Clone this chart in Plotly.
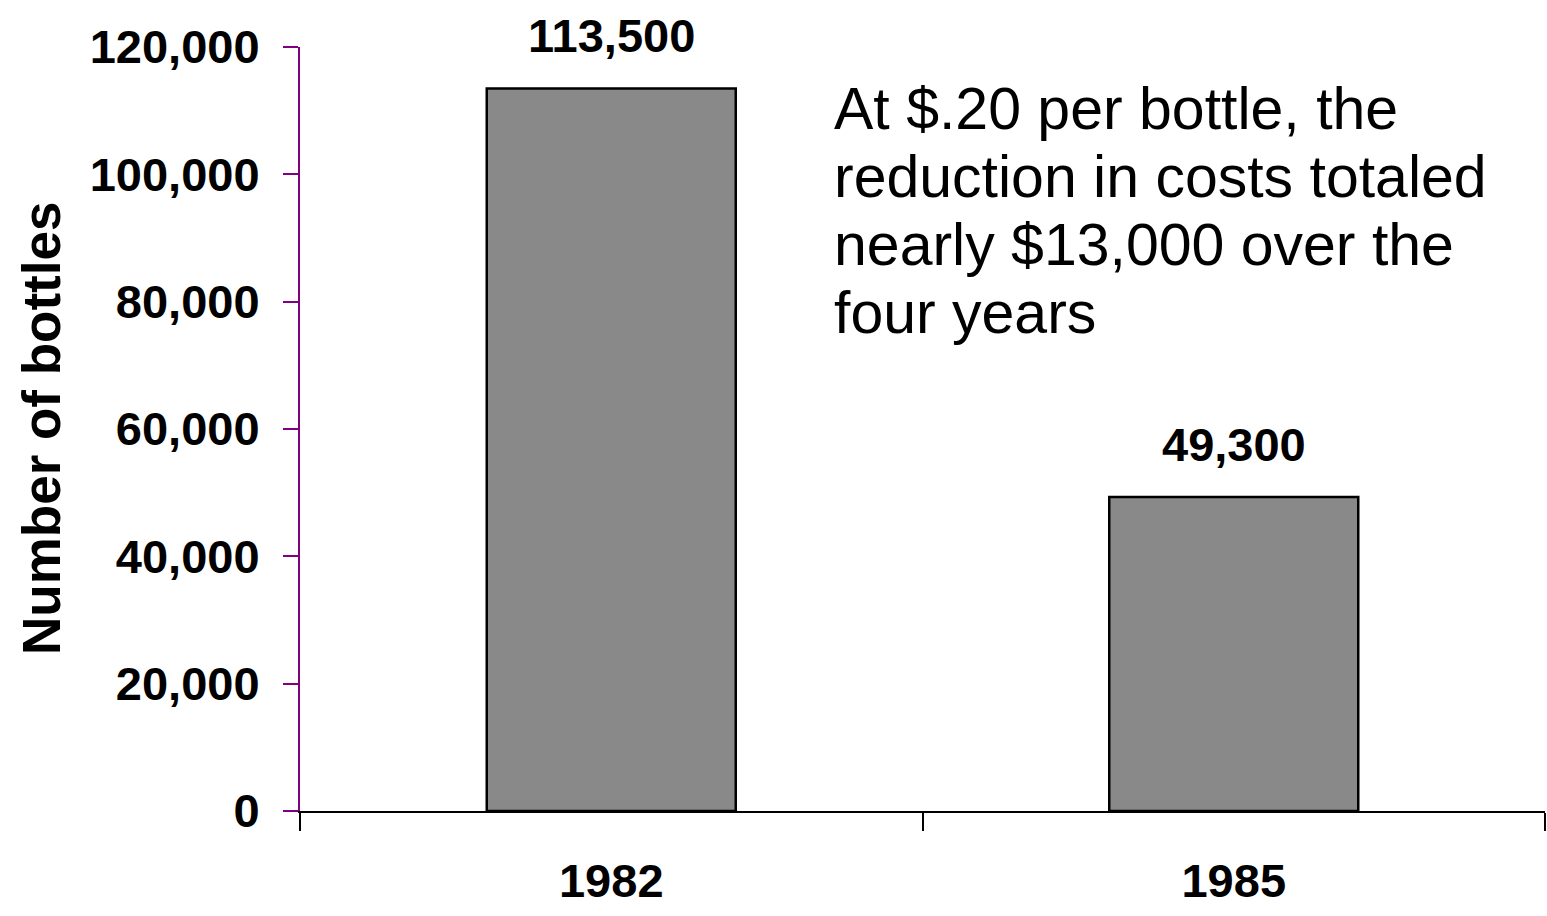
import plotly.graph_objects as go

# Bottle counts by year
years = ["1982", "1985"]
bottles = [113500, 49300]
value_labels = ["113,500", "49,300"]

y_ticks = [0, 20000, 40000, 60000, 80000, 100000, 120000]
y_tick_labels = ["0", "20,000", "40,000", "60,000", "80,000", "100,000", "120,000"]

note_lines = [
    "At $.20 per bottle, the",
    "reduction in costs totaled",
    "nearly $13,000 over the",
    "four years",
]

W, H = 1547, 916
M_L, M_R, M_T, M_B = 300, 2, 47, 105
PLOT_W = W - M_L - M_R
PLOT_H = H - M_T - M_B

FONT = "Arial, Liberation Sans, sans-serif"


def px_x(px):
    return (px - M_L) / PLOT_W


def px_y(py):
    return (H - M_B - py) / PLOT_H


fig = go.Figure()
fig.add_trace(go.Bar(
    x=years,
    y=bottles,
    width=0.40,
    marker=dict(color="#898989", line=dict(color="#000000", width=2.5)),
    hoverinfo="skip",
))

annotations = []
# value labels above each bar (category index used for x on the category axis)
for idx, (val, lab) in enumerate(zip(bottles, value_labels)):
    annotations.append(dict(
        x=idx, y=val, xref="x", yref="y",
        text=lab, showarrow=False,
        yanchor="bottom", yshift=24,
        font=dict(family=FONT, size=47, color="#000000", weight="bold"),
    ))

for i, line in enumerate(note_lines):
    annotations.append(dict(
        x=px_x(832), y=px_y(109 + 68 * i), xref="paper", yref="paper",
        text=line, showarrow=False,
        xanchor="left", yanchor="middle",
        font=dict(family=FONT, size=59, color="#000000"),
    ))

annotations.append(dict(
    x=px_x(41), y=0.5, xref="paper", yref="paper",
    text="Number of bottles", showarrow=False, textangle=-90,
    xanchor="center", yanchor="middle",
    font=dict(family=FONT, size=53, color="#000000", weight="bold"),
))

fig.update_layout(
    width=W, height=H,
    margin=dict(l=M_L, r=M_R, t=M_T, b=M_B),
    paper_bgcolor="#ffffff",
    plot_bgcolor="#ffffff",
    showlegend=False,
    bargap=0.6,
    annotations=annotations,
)

fig.update_xaxes(
    type="category",
    range=[-0.5, 1.5],
    tickson="boundaries",
    ticks="outside", ticklen=18, tickwidth=2, tickcolor="#000000",
    showline=True, linecolor="#000000", linewidth=2,
    showgrid=False, zeroline=False,
    ticklabelstandoff=28,
    tickfont=dict(family=FONT, size=47, color="#000000", weight="bold"),
)

fig.update_yaxes(
    range=[0, 120000],
    tickmode="array", tickvals=y_ticks, ticktext=y_tick_labels,
    ticks="outside", ticklen=15, tickwidth=2, tickcolor="#800080",
    showline=True, linecolor="#800080", linewidth=2,
    showgrid=False, zeroline=False,
    ticklabelstandoff=14,
    tickfont=dict(family=FONT, size=47, color="#000000", weight="bold"),
)

fig.write_html("out.html")
